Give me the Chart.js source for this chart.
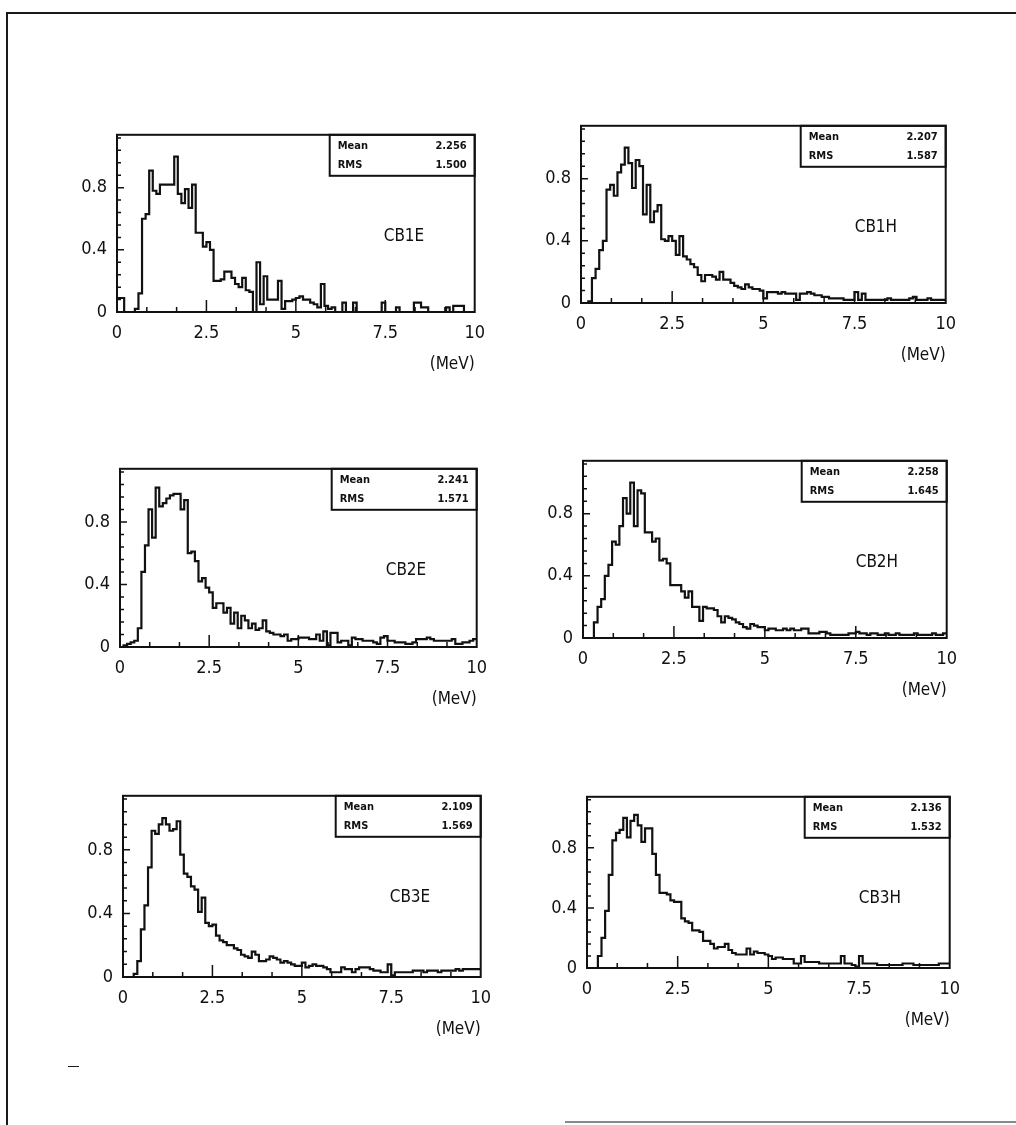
<!DOCTYPE html>
<html>
<head>
<meta charset="utf-8">
<title>CB energy spectra</title>
<script src="https://cdn.jsdelivr.net/npm/chart.js@4.4.1/dist/chart.umd.min.js"></script>
<style>
  body { margin: 0; background: #fff; }
  #page { position: relative; width: 1016px; height: 1125px; overflow: hidden; background: #fff; }
  #page canvas { position: absolute; }
  .edge { position: absolute; background: #1a1a1a; }
</style>
</head>
<body>
<div id="page">
  <div class="edge" style="left:6px;top:12px;width:2px;height:1113px"></div>
  <div class="edge" style="left:6px;top:12px;width:1010px;height:2px"></div>
  <div class="edge" style="left:565px;top:1121px;width:451px;height:2px;background:#888"></div>
  <div class="edge" style="left:68px;top:1066px;width:11px;height:1px"></div>
</div>
<script>
// histogram contents, 100 bins from 0 to 10 MeV
const cb1e = [
  0.09, 0.09, 0, 0, 0, 0.02, 0.12, 0.60, 0.63, 0.91,
  0.78, 0.76, 0.82, 0.82, 0.82, 0.82, 1.00, 0.76, 0.70, 0.79,
  0.67, 0.82, 0.51, 0.51, 0.42, 0.45, 0.40, 0.20, 0.20, 0.21,
  0.26, 0.26, 0.22, 0.18, 0.16, 0.22, 0.14, 0.13, 0.00, 0.32,
  0.05, 0.23, 0.08, 0.08, 0.08, 0.20, 0.02, 0.07, 0.07, 0.08,
  0.09, 0.10, 0.08, 0.08, 0.06, 0.05, 0.03, 0.18, 0.04, 0.02,
  0.03, 0, 0, 0.06, 0, 0, 0.06, 0, 0, 0,
  0, 0, 0, 0, 0.06, 0, 0, 0, 0.03, 0,
  0, 0, 0, 0.06, 0.06, 0.03, 0.03, 0, 0, 0,
  0, 0, 0.03, 0, 0.04, 0.04, 0.04, 0, 0, 0,
];
const cb1h = [
  0, 0, 0.01, 0.16, 0.22, 0.34, 0.40, 0.73, 0.76, 0.69,
  0.84, 0.89, 1.00, 0.90, 0.74, 0.92, 0.88, 0.57, 0.76, 0.52,
  0.59, 0.63, 0.41, 0.40, 0.43, 0.40, 0.31, 0.43, 0.30, 0.28,
  0.25, 0.23, 0.18, 0.14, 0.18, 0.18, 0.17, 0.15, 0.20, 0.15,
  0.15, 0.13, 0.11, 0.10, 0.09, 0.12, 0.10, 0.09, 0.09, 0.08,
  0.03, 0.07, 0.07, 0.07, 0.06, 0.07, 0.06, 0.06, 0.06, 0.02,
  0.06, 0.06, 0.07, 0.06, 0.05, 0.05, 0.04, 0.04, 0.03, 0.03,
  0.03, 0.03, 0.02, 0.02, 0.02, 0.07, 0.02, 0.06, 0.02, 0.02,
  0.02, 0.02, 0.02, 0.02, 0.03, 0.02, 0.02, 0.02, 0.02, 0.02,
  0.03, 0.04, 0.02, 0.02, 0.02, 0.03, 0.02, 0.02, 0.02, 0.02,
];
const cb2e = [
  0, 0.01, 0.02, 0.03, 0.04, 0.12, 0.48, 0.65, 0.88, 0.70,
  1.02, 0.90, 0.92, 0.95, 0.97, 0.98, 0.98, 0.88, 0.94, 0.60,
  0.61, 0.55, 0.42, 0.44, 0.38, 0.35, 0.25, 0.28, 0.28, 0.22,
  0.25, 0.15, 0.22, 0.12, 0.20, 0.17, 0.12, 0.15, 0.11, 0.12,
  0.17, 0.10, 0.09, 0.08, 0.08, 0.07, 0.08, 0.04, 0.05, 0.05,
  0.06, 0.06, 0.06, 0.05, 0.05, 0.08, 0.04, 0.10, 0.01, 0.09,
  0.09, 0.03, 0.04, 0.04, 0.01, 0.06, 0.05, 0.05, 0.04, 0.04,
  0.04, 0.03, 0.02, 0.06, 0.07, 0.04, 0.04, 0.03, 0.03, 0.03,
  0.02, 0.02, 0.03, 0.05, 0.05, 0.05, 0.06, 0.05, 0.04, 0.04,
  0.04, 0.04, 0.04, 0.05, 0.02, 0.02, 0.03, 0.03, 0.04, 0.05,
];
const cb2h = [
  0, 0, 0, 0.10, 0.20, 0.25, 0.40, 0.47, 0.62, 0.60,
  0.72, 0.90, 0.80, 1.00, 0.72, 0.95, 0.93, 0.68, 0.68, 0.62,
  0.64, 0.50, 0.51, 0.48, 0.34, 0.34, 0.34, 0.30, 0.26, 0.30,
  0.20, 0.20, 0.11, 0.20, 0.19, 0.19, 0.18, 0.14, 0.10, 0.14,
  0.13, 0.12, 0.10, 0.09, 0.07, 0.06, 0.09, 0.08, 0.07, 0.07,
  0.05, 0.06, 0.06, 0.05, 0.05, 0.06, 0.05, 0.06, 0.05, 0.05,
  0.06, 0.06, 0.03, 0.03, 0.03, 0.04, 0.04, 0.03, 0.02, 0.02,
  0.02, 0.02, 0.02, 0.03, 0.03, 0.04, 0.03, 0.03, 0.02, 0.03,
  0.03, 0.02, 0.02, 0.03, 0.02, 0.02, 0.03, 0.02, 0.02, 0.02,
  0.02, 0.03, 0.02, 0.02, 0.02, 0.02, 0.03, 0.02, 0.02, 0.03,
];
const cb3e = [
  0, 0, 0, 0.02, 0.10, 0.30, 0.45, 0.69, 0.92, 0.90,
  0.96, 1.00, 0.96, 0.92, 0.93, 0.98, 0.77, 0.65, 0.63, 0.57,
  0.55, 0.41, 0.50, 0.34, 0.32, 0.33, 0.26, 0.23, 0.22, 0.20,
  0.20, 0.18, 0.17, 0.14, 0.13, 0.12, 0.16, 0.14, 0.10, 0.10,
  0.11, 0.13, 0.12, 0.11, 0.09, 0.10, 0.09, 0.08, 0.07, 0.07,
  0.09, 0.06, 0.07, 0.08, 0.07, 0.07, 0.06, 0.05, 0.03, 0.03,
  0.03, 0.06, 0.05, 0.05, 0.03, 0.05, 0.06, 0.06, 0.06, 0.05,
  0.04, 0.04, 0.03, 0.03, 0.08, 0.01, 0.03, 0.03, 0.03, 0.03,
  0.03, 0.04, 0.04, 0.04, 0.03, 0.04, 0.04, 0.04, 0.03, 0.04,
  0.04, 0.04, 0.04, 0.05, 0.04, 0.05, 0.05, 0.05, 0.05, 0.05,
];
const cb3h = [
  0, 0, 0, 0.08, 0.20, 0.38, 0.62, 0.85, 0.90, 0.92,
  1.00, 0.87, 0.98, 1.02, 0.95, 0.84, 0.93, 0.93, 0.76, 0.62,
  0.50, 0.50, 0.49, 0.45, 0.44, 0.44, 0.33, 0.31, 0.30, 0.25,
  0.25, 0.24, 0.18, 0.18, 0.16, 0.13, 0.14, 0.14, 0.16, 0.12,
  0.10, 0.09, 0.09, 0.09, 0.13, 0.09, 0.11, 0.10, 0.10, 0.09,
  0.08, 0.06, 0.07, 0.07, 0.06, 0.06, 0.06, 0.03, 0.03, 0.08,
  0.04, 0.04, 0.04, 0.04, 0.03, 0.03, 0.03, 0.03, 0.03, 0.03,
  0.08, 0.03, 0.03, 0.02, 0.01, 0.08, 0.03, 0.03, 0.03, 0.03,
  0.02, 0.02, 0.02, 0.02, 0.02, 0.02, 0.02, 0.03, 0.03, 0.03,
  0.02, 0.02, 0.02, 0.02, 0.02, 0.02, 0.02, 0.03, 0.03, 0.03,
];

const names = ["CB1E", "CB1H", "CB2E", "CB2H", "CB3E", "CB3H"];
const means = ["2.256", "2.207", "2.241", "2.258", "2.109", "2.136"];
const rmss = ["1.500", "1.587", "1.571", "1.645", "1.569", "1.532"];
const series = [cb1e, cb1h, cb2e, cb2h, cb3e, cb3h];

const xTickValues = [0, 2.5, 5, 7.5, 10];
const yTickValues = [0, 0.4, 0.8];
const xRange = [0, 10];
const yRange = [0, 1.14];
const xUnit = "(MeV)";

// frame of every plot box on the page: left, top, right, bottom
const frames = [
  [117, 124, 476, 312],
  [581, 115, 947, 303],
  [120, 458, 478, 647],
  [583, 450, 948, 638],
  [123, 785, 482, 977],
  [587, 786, 951, 968],
];

const FONT = '"Liberation Sans Narrow", "DejaVu Sans Condensed", "Liberation Sans", sans-serif';
const INK = "#111";
const PAD_L = 60;
const PAD_T = 10;
const PAD_R = 20;
const PAD_B = 75;

Chart.defaults.font.family = FONT;
Chart.defaults.color = INK;

const histDecor = {
  id: "histDecor",
  afterDatasetsDraw(chart, args, opts) {
    const { ctx, chartArea: a, scales } = chart;
    const x = scales.x;
    const y = scales.y;
    ctx.save();
    ctx.strokeStyle = INK;
    ctx.fillStyle = INK;

    // inner tick marks
    ctx.lineWidth = 1.5;
    ctx.beginPath();
    const xStep = 2.5 / 3;
    for (let k = 1; k * xStep < xRange[1] - 0.01; k++) {
      const px = x.getPixelForValue(k * xStep);
      const len = k % 3 === 0 ? 12 : 5;
      ctx.moveTo(px, a.bottom);
      ctx.lineTo(px, a.bottom - len);
    }
    const yStep = 0.08;
    for (let k = 1; k * yStep < yRange[1]; k++) {
      const py = y.getPixelForValue(k * yStep);
      const len = k % 5 === 0 ? 7 : 4;
      ctx.moveTo(a.left, py);
      ctx.lineTo(a.left + len, py);
    }
    ctx.stroke();

    // frame
    ctx.lineWidth = 2;
    ctx.strokeRect(a.left, a.top, a.right - a.left, a.bottom - a.top);

    // statistics box
    const bw = 145;
    const bh = 41;
    ctx.strokeRect(a.right - bw, a.top, bw, bh);
    ctx.font = `bold 11px ${FONT}`;
    ctx.textBaseline = "middle";
    ctx.textAlign = "left";
    ctx.fillText("Mean", a.right - bw + 8, a.top + 11);
    ctx.fillText("RMS", a.right - bw + 8, a.top + 30);
    ctx.textAlign = "right";
    ctx.fillText(opts.mean, a.right - 8, a.top + 11);
    ctx.fillText(opts.rms, a.right - 8, a.top + 30);

    // histogram name
    ctx.font = `17px ${FONT}`;
    ctx.textAlign = "left";
    ctx.fillText(opts.name, a.right - 91, a.top + 102);

    // unit under the x axis
    ctx.textAlign = "right";
    ctx.fillText(xUnit, a.right, a.bottom + 53);
    ctx.restore();
  },
};

function binPoints(values) {
  const w = (xRange[1] - xRange[0]) / values.length;
  const pts = values.map((v, i) => ({ x: xRange[0] + i * w, y: v }));
  pts.push({ x: xRange[1], y: values[values.length - 1] });
  return pts;
}

function makePanel(index) {
  const [left, top, right, bottom] = frames[index];
  const canvas = document.createElement("canvas");
  const w = right - left + PAD_L + PAD_R;
  const h = bottom - top + PAD_T + PAD_B;
  canvas.width = w;
  canvas.height = h;
  canvas.style.left = `${left - PAD_L}px`;
  canvas.style.top = `${top - PAD_T}px`;
  canvas.style.width = `${w}px`;
  canvas.style.height = `${h}px`;
  document.getElementById("page").appendChild(canvas);

  return new Chart(canvas.getContext("2d"), {
    type: "line",
    data: {
      datasets: [
        {
          label: names[index],
          data: binPoints(series[index]),
          stepped: "before",
          borderColor: INK,
          borderWidth: 2.2,
          pointRadius: 0,
          fill: false,
        },
      ],
    },
    options: {
      responsive: false,
      animation: false,
      devicePixelRatio: 1,
      layout: { padding: { left: 0, top: PAD_T, right: PAD_R, bottom: 0 } },
      plugins: {
        legend: { display: false },
        tooltip: { enabled: false },
        histDecor: { name: names[index], mean: means[index], rms: rmss[index] },
      },
      scales: {
        x: {
          type: "linear",
          min: xRange[0],
          max: xRange[1],
          grid: { display: false, drawTicks: false },
          border: { display: false },
          afterBuildTicks: (s) => {
            s.ticks = xTickValues.map((v) => ({ value: v }));
          },
          afterFit: (s) => {
            s.height = PAD_B;
          },
          ticks: {
            autoSkip: false,
            maxRotation: 0,
            padding: 11,
            font: { size: 18 },
            callback: (v) => String(v),
          },
        },
        y: {
          type: "linear",
          min: yRange[0],
          max: yRange[1],
          grid: { display: false, drawTicks: false },
          border: { display: false },
          afterBuildTicks: (s) => {
            s.ticks = yTickValues.map((v) => ({ value: v }));
          },
          afterFit: (s) => {
            s.width = PAD_L;
          },
          ticks: {
            autoSkip: false,
            padding: 10,
            font: { size: 18 },
            callback: (v) => String(v),
          },
        },
      },
    },
    plugins: [histDecor],
  });
}

names.forEach((n, i) => makePanel(i));
</script>
</body>
</html>
